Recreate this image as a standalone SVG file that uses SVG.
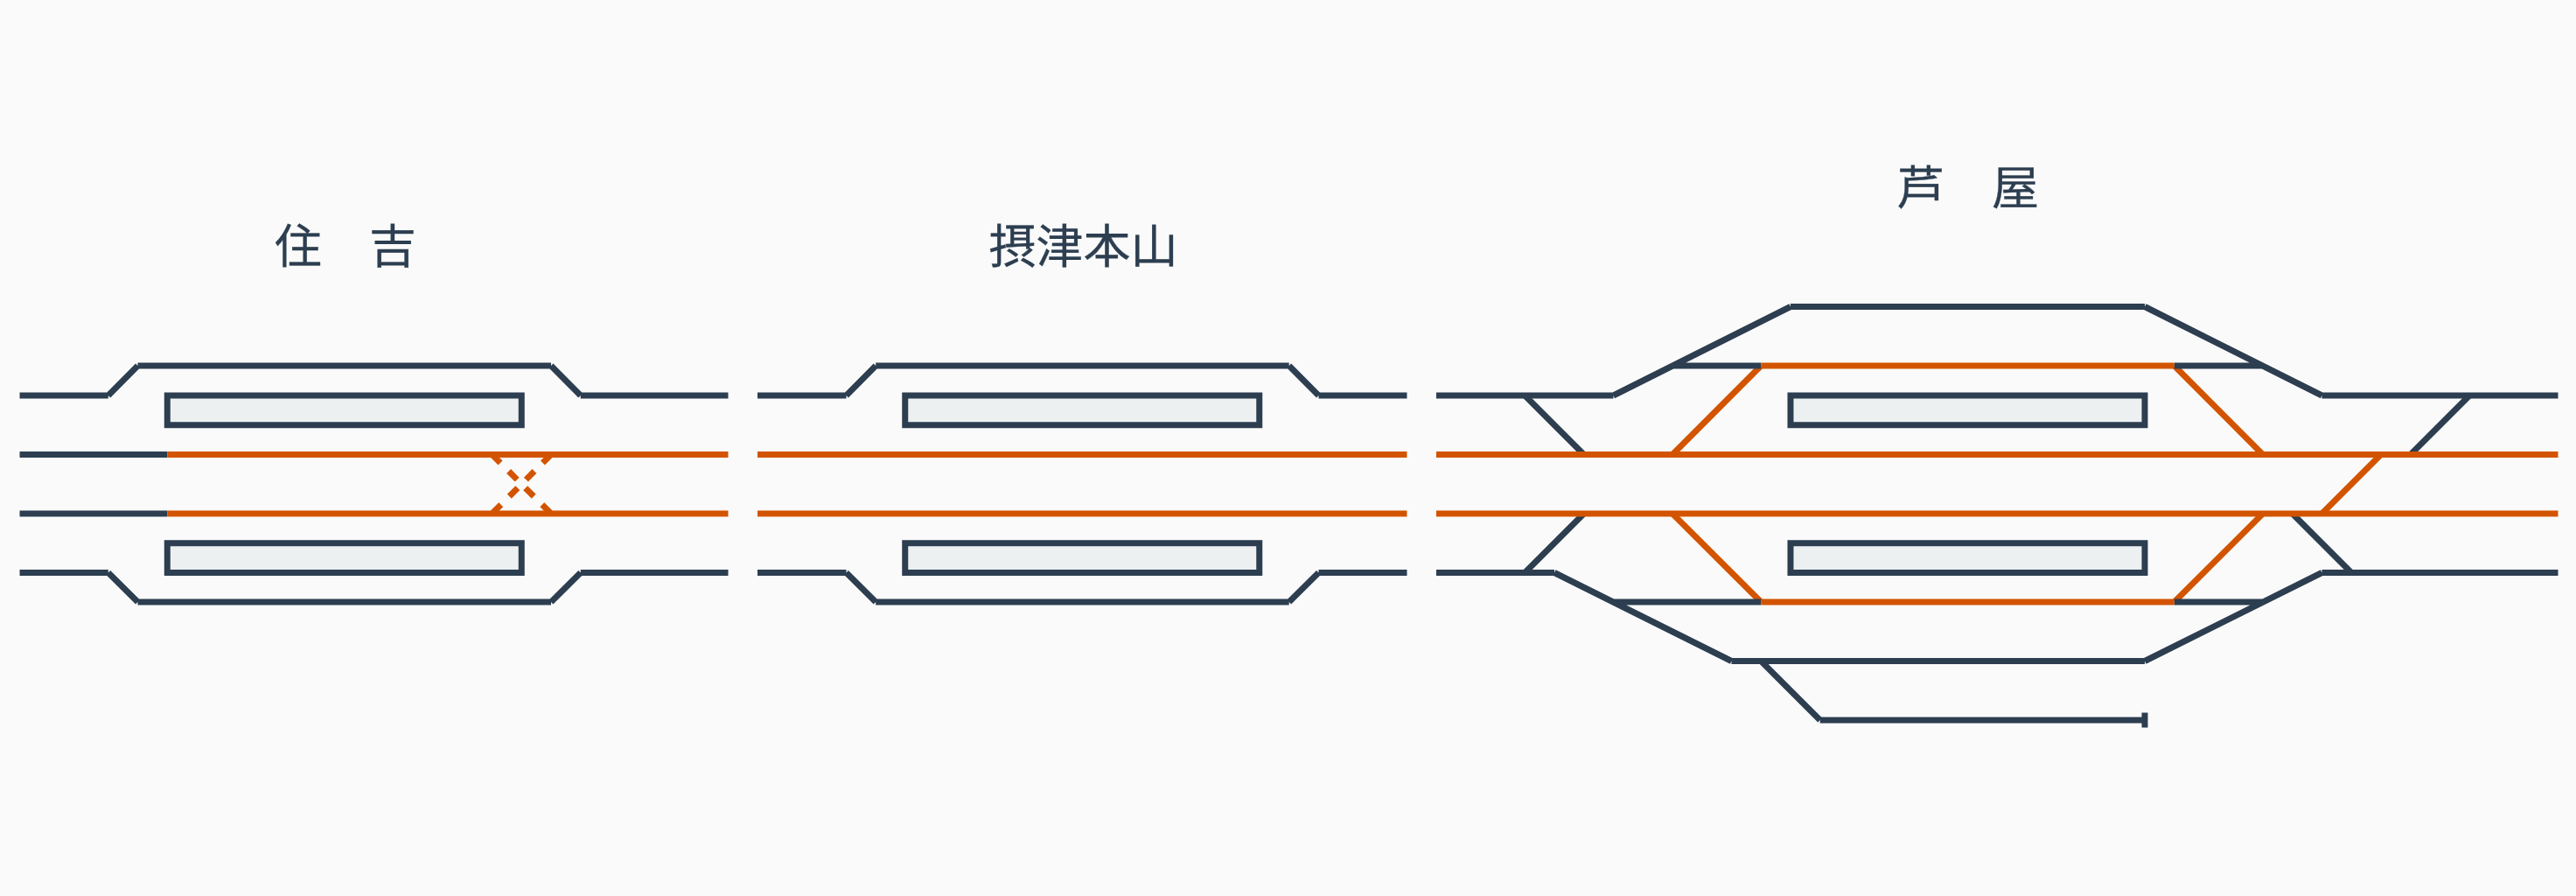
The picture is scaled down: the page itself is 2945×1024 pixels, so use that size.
<svg xmlns="http://www.w3.org/2000/svg" width="2945" height="1024" viewBox="0 0 2945 1024">
<style>
.d{stroke:#2c3e50;stroke-width:7;fill:none}
.o{stroke:#d35400;stroke-width:7;fill:none}
.x{stroke-dasharray:13.5}
.p{fill:#ecf0f1;stroke:#2c3e50;stroke-width:7}
text{font-family:"Noto Sans CJK JP","Noto Sans CJK SC",sans-serif;font-size:54px;fill:#2c3e50;stroke:#2c3e50;stroke-width:0.3;text-anchor:middle;text-rendering:geometricPrecision}
</style>
<rect width="2945" height="1024" fill="#fafafa"/>
<g id="station-sumiyoshi">
<text x="395" y="300.5">住　吉</text>
<rect class="p" x="191.25" y="452" width="405" height="33.75"/>
<rect class="p" x="191.25" y="620.75" width="405" height="33.75"/>
</g>
<g id="station-settsu-motoyama">
<text x="1238.5" y="300.5">摂津本山</text>
<rect class="p" x="1034.75" y="452" width="405" height="33.75"/>
<rect class="p" x="1034.75" y="620.75" width="405" height="33.75"/>
</g>
<g id="station-ashiya">
<text x="2250" y="233.5">芦　屋</text>
<rect class="p" x="2047" y="452" width="405" height="33.75"/>
<rect class="p" x="2047" y="620.75" width="405" height="33.75"/>
</g>
<g id="connectors">
<path class="o x" d="M562.5 519.5L630 587M630 519.5L562.5 587"/>
<path class="d" d="M22.5 452H123.75M123.75 452L157.5 418M157.5 418H630M630 418L663.75 452M663.75 452H832.5M22.5 654.5H123.75M123.75 654.5L157.5 688M157.5 688H630M630 688L663.75 654.5M663.75 654.5H832.5M22.5 519.5H191.25M22.5 587H191.25"/>
<path class="o" d="M191.25 519.5H832.5M191.25 587H832.5"/>
<path class="d" d="M866 452H967.5M967.5 452L1001.2 418M1001.2 418H1473.7M1473.7 418L1507.5 452M1507.5 452H1608.5M866 654.5H967.5M967.5 654.5L1001.2 688M1001.2 688H1473.7M1473.7 688L1507.5 654.5M1507.5 654.5H1608.5"/>
<path class="o" d="M866 519.5H1608.5M866 587H1608.5"/>
<path class="d" d="M1743.25 452L1810.75 519.5M1743.25 654.5L1810.75 587M2620.75 587L2688.25 654.5M2755.75 519.5L2823.25 452M2013.25 755.5L2080.75 823"/>
<path class="o" d="M2013.25 418L1912 519.5M1912 587L2013.25 688M2485.75 418L2587 519.5M2485.75 688L2587 587M2654.5 587L2722 519.5"/>
<path class="d" d="M1642 452H1844.5M1844.5 452L2047 350.5M2047 350.5H2452M2452 350.5L2654.5 452M2654.5 452H2924.5M1912 418H2013.25M2485.75 418H2587M1642 654.5H1777M1777 654.5L1979.5 755.5M1979.5 755.5H2452M2452 755.5L2654.5 654.5M2654.5 654.5H2924.5M1844.5 688H2013.25M2485.75 688H2587M2080.75 823H2452M2452 814.5V831.5"/>
<path class="o" d="M2013.25 418H2485.75M2013.25 688H2485.75M1642 519.5H2924.5M1642 587H2924.5"/>
</g>
</svg>
